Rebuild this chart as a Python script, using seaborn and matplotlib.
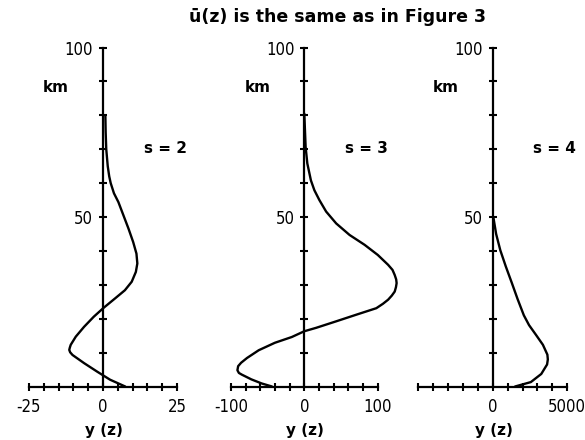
import matplotlib
matplotlib.use("Agg")
import matplotlib.pyplot as plt
import seaborn as sns

# ---------------- data ----------------
z_s2 = [80, 75, 70, 65, 62, 60, 57, 54.4, 50.5, 46.6, 42.6, 39.2, 36.3, 33.8, 30.9, 28.4, 26.0,
        23.2, 20.6, 17.6, 14.7, 12.3, 11.5, 10.8, 10.1, 9.3, 6.9, 4.4, 2.0, 0]
y_s2 = [0.8, 0.9, 1.1, 1.6, 2.1, 2.6, 3.7, 5.2, 6.9, 8.6, 10.2, 11.3, 11.6, 11.1, 9.7, 7.4, 4.1,
        0.2, -3.1, -6.4, -9.2, -10.9, -11.2, -11.4, -11.1, -10.3, -6.4, -2.0, 2.4, 7.5]

z_s3 = [80.5, 75.6, 70.7, 65.8, 60.8, 57.9, 55, 51.6, 48.1, 44.7, 41.8, 38.8, 35.9, 34.4, 32.9,
        31.6, 30.5, 29.3, 28, 26.8, 25.6, 24.4, 23.1, 21.2, 19.2, 17.3, 16.3, 14.6, 12.9, 10.7,
        8.4, 7.0, 6.0, 4.8, 4.0, 3.5, 2.1, 0.9, 0]
y_s3 = [0, 0.9, 1.8, 4.1, 9.0, 13.7, 20.5, 29.7, 43.4, 61.6, 82, 100, 114, 120, 123,
        125, 125.6, 124.7, 123, 119, 114, 107, 98, 71, 43, 16, 0, -17, -40, -62,
        -78, -86, -90, -91, -89, -85, -72, -58, -44]

z_s4 = [49.8, 45.0, 40.2, 35.4, 30.6, 25.8, 21.0, 18.1, 15.2, 12.3, 9.4, 8.0, 6.5, 3.7, 1.3, 0]
y_s4 = [50, 230, 510, 880, 1280, 1670, 2090, 2440, 2910, 3370, 3670, 3700, 3650, 3260, 2560,
        1500]

panels = [
    dict(z=z_s2, y=y_s2, s_label="s = 2",
         xticks=[-25, -20, -15, -10, -5, 0, 5, 10, 15, 20, 25],
         xticklabels=["-25", "", "", "", "", "0", "", "", "", "", "25"]),
    dict(z=z_s3, y=y_s3, s_label="s = 3",
         xticks=[-100, -80, -60, -40, -20, 0, 20, 40, 60, 80, 100],
         xticklabels=["-100", "", "", "", "", "0", "", "", "", "", "100"]),
    dict(z=z_s4, y=y_s4, s_label="s = 4",
         xticks=[-5000, -4000, -3000, -2000, -1000, 0, 1000, 2000, 3000, 4000, 5000],
         xticklabels=["", "", "", "", "", "0", "", "", "", "", "5000"]),
]
yticks = [10, 20, 30, 40, 50, 60, 70, 80, 90, 100]
yticklabels = ["", "", "", "", "50", "", "", "", "", "100"]

title = "ū(z) is the same as in Figure 3"
xlabel = "y (z)"
ylabel = "km"

# ---------------- layout (pixels of a 585x440 canvas) ----------------
W, H = 585, 440
geom = [  # zero_px, px_per_unit, left_px, right_px
    (103.0, 148.0 / 50, 12, 192),
    (304.3, 147.0 / 200, 212, 408),
    (492.7, 149.0 / 10000, 410, 582),
]
y_zero, y_ppu, y_bot, y_top = 386.5, 3.39, 402, 38

sns.set_style("ticks")
plt.rcParams["font.family"] = ["DejaVu Sans"]
plt.rcParams["axes.unicode_minus"] = False
plt.rcParams["text.color"] = "black"

fig = plt.figure(figsize=(W / 100, H / 100), dpi=100)
tick_font = dict(family=["DejaVu Sans"], size=12, stretch="condensed")

for p, (x0, ppu, lpx, rpx) in zip(panels, geom):
    ax = fig.add_axes([lpx / W, 1 - y_bot / H, (rpx - lpx) / W, (y_bot - y_top) / H])
    ax.patch.set_alpha(0)
    sns.lineplot(x=p["y"], y=p["z"], sort=False, estimator=None, color="black",
                 linewidth=1.7, ax=ax)
    for ln in ax.lines:
        ln.set_solid_joinstyle("round")
        ln.set_solid_capstyle("round")
    ax.set_xlim((lpx - x0) / ppu, (rpx - x0) / ppu)
    ax.set_ylim((y_zero - y_bot) / y_ppu, (y_zero - y_top) / y_ppu)
    for side in ("top", "right"):
        ax.spines[side].set_visible(False)
    ax.spines["left"].set_position(("data", 0))
    ax.spines["bottom"].set_position(("data", 0))
    ax.spines["left"].set_bounds(0, 100)
    ax.spines["bottom"].set_bounds(p["xticks"][0], p["xticks"][-1])
    for side in ("left", "bottom"):
        ax.spines[side].set_linewidth(1.6)
        ax.spines[side].set_color("black")
    ax.set_xticks(p["xticks"])
    ax.set_xticklabels(p["xticklabels"], fontdict=tick_font)
    ax.set_yticks(yticks)
    ax.set_yticklabels(yticklabels, fontdict=tick_font)
    ax.tick_params(axis="both", which="major", direction="inout", length=6, width=1.5,
                   colors="black", bottom=True, left=True, top=False, right=False)
    ax.tick_params(axis="x", pad=5)
    ax.tick_params(axis="y", pad=4)
    ax.set_xlabel("")
    ax.set_ylabel("")
    # text labels
    fig.text((x0 - 47) / W, 1 - 88 / H, ylabel, ha="center", va="center",
             fontsize=11, fontweight="bold", color="black")
    fig.text((x0 + 62) / W, 1 - 148 / H, p["s_label"], ha="center", va="center",
             fontsize=11, fontweight="bold", color="black")
    fig.text((x0 + 1) / W, 1 - 430 / H, xlabel, ha="center", va="center",
             fontsize=11, fontweight="bold", color="black")

fig.text(338 / W, 1 - 17 / H, title, ha="center", va="center", fontsize=12.5,
         fontweight="bold", color="black")

fig.savefig("out.png", dpi=100)
